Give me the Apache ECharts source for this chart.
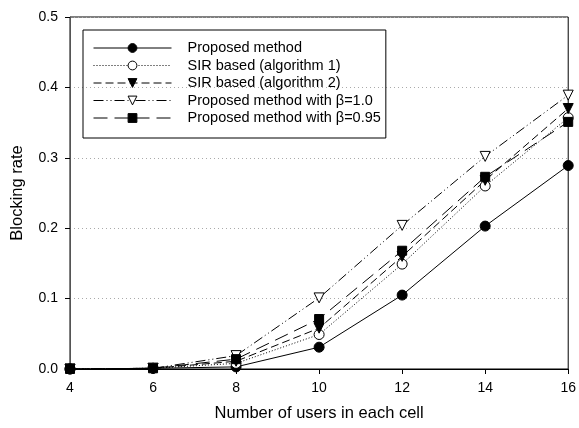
<!DOCTYPE html>
<html><head><meta charset="utf-8">
<script src="https://cdn.jsdelivr.net/npm/echarts@6/dist/echarts.min.js"></script>
<style>html,body{margin:0;padding:0;background:#fff}#c{width:579px;height:428px}</style>
</head><body><div id="c"></div>
<script>
const xUsers = [4, 6, 8, 10, 12, 14, 16];
const proposed = [0, 0.001, 0.003, 0.031, 0.105, 0.203, 0.289];
const sir1 = [0, 0.001, 0.008, 0.049, 0.149, 0.260, 0.357];
const sir2 = [0, 0.001, 0.011, 0.058, 0.160, 0.268, 0.370];
const beta10 = [0, 0.001, 0.019, 0.101, 0.204, 0.302, 0.389];
const beta095 = [0, 0.001, 0.014, 0.071, 0.168, 0.273, 0.351];
const seriesNames = ['Proposed method', 'SIR based (algorithm 1)', 'SIR based (algorithm 2)', 'Proposed method with \u03b2=1.0', 'Proposed method with \u03b2=0.95'];

function pts(arr){ return xUsers.map((x,i)=>[x, arr[i]]); }
const font = 'Liberation Sans, Arial, sans-serif';
const chart = echarts.init(document.getElementById('c'));
const mk = (name, data, dash, symbol, size, fill, rot) => ({
  name, type: 'line', data: pts(data), symbol, symbolSize: size, symbolRotate: rot || 0,
  itemStyle: {color: fill, borderColor: '#000', borderWidth: 1},
  lineStyle: {color: '#000', width: 1, type: dash},
  emphasis: {disabled: true}, animation: false, z: 3
});
chart.setOption({
  animation: false,
  grid: {left: 70, right: 6, top: 17, bottom: 59, show: true, borderColor: '#000', borderWidth: 1},
  xAxis: {
    type: 'value', min: 4, max: 16, interval: 2,
    name: 'Number of users in each cell', nameLocation: 'middle', nameGap: 36,
    nameTextStyle: {fontFamily: font, fontSize: 16.5, color: '#000'},
    axisLine: {lineStyle: {color: '#000', width: 1}},
    axisTick: {show: true, length: 5, lineStyle: {color: '#000'}},
    axisLabel: {fontFamily: font, fontSize: 14, color: '#000', margin: 12},
    splitLine: {show: false}
  },
  yAxis: {
    type: 'value', min: 0, max: 0.5, interval: 0.1,
    name: 'Blocking rate', nameLocation: 'middle', nameGap: 44,
    nameTextStyle: {fontFamily: font, fontSize: 16.5, color: '#000'},
    axisLine: {show: true, lineStyle: {color: '#555', width: 1}},
    axisTick: {show: true, length: 5, lineStyle: {color: '#000'}},
    axisLabel: {fontFamily: font, fontSize: 14, color: '#000', margin: 12, formatter: v => v.toFixed(1)},
    splitLine: {show: true, lineStyle: {color: '#aaa', type: [1, 3], width: 1}}
  },
  legend: {
    orient: 'vertical', left: 83, top: 30,
    data: seriesNames,
    itemWidth: 78, itemHeight: 11, itemGap: 1.5,
    padding: [10, 5, 12, 10],
    borderColor: '#000', borderWidth: 1,
    lineStyle: {width: 1},
    itemStyle: {borderWidth: 1},
    textStyle: {fontFamily: font, fontSize: 14.5, lineHeight: 16, color: '#000', padding: [0, 0, 0, 11]},
    selectedMode: false
  },
  series: [
    mk(seriesNames[0], proposed, 'solid', 'circle', 10, '#000'),
    mk(seriesNames[1], sir1, [1, 2], 'circle', 10, '#fff'),
    mk(seriesNames[2], sir2, [8, 4], 'triangle', 10, '#000', 180),
    mk(seriesNames[3], beta10, [10, 3, 1, 3, 1, 3], 'triangle', 10, '#fff', 180),
    mk(seriesNames[4], beta095, [14, 7], 'rect', 9, '#000')
  ]
});
</script></body></html>
